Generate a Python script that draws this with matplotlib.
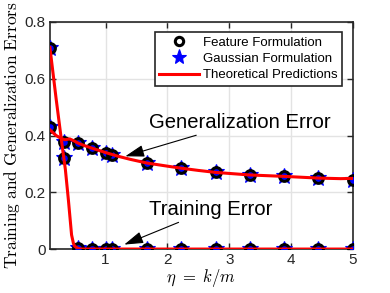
import numpy as np
import matplotlib
matplotlib.use("Agg")
import matplotlib.pyplot as plt

plt.rcParams['font.family'] = ['Liberation Sans', 'DejaVu Sans']
plt.rcParams['mathtext.fontset'] = 'cm'

# simulation points
eta = [0.1, 0.33, 0.56, 0.78, 1.0, 1.11, 1.67, 2.22, 2.78, 3.33, 3.89, 4.44, 5.0]
gen_feat = [0.43, 0.378, 0.372, 0.356, 0.34, 0.332, 0.303, 0.285, 0.27, 0.26, 0.256, 0.25, 0.245]
gen_gauss = [0.43, 0.378, 0.372, 0.356, 0.34, 0.332, 0.303, 0.285, 0.27, 0.26, 0.256, 0.25, 0.245]
train_feat = [0.71, 0.32, 0.003, 0.0, 0.0, 0.0, 0.0, 0.0, 0.0, 0.0, 0.0, 0.0, 0.0]
train_gauss = [0.71, 0.32, 0.003, 0.0, 0.0, 0.0, 0.0, 0.0, 0.0, 0.0, 0.0, 0.0, 0.0]

# theory curves
eta_th_gen = [0.1, 0.2, 0.28, 0.34, 0.42, 0.5, 0.55, 0.65, 0.8, 0.9, 1.0, 1.2, 1.4,
              1.67, 2.0, 2.22, 2.5, 2.78, 3.33, 3.89, 4.44, 4.8, 5.0]
gen_th = [0.42, 0.4, 0.39, 0.385, 0.388, 0.38, 0.374, 0.365, 0.354, 0.347, 0.34, 0.327,
          0.316, 0.303, 0.292, 0.285, 0.277, 0.27, 0.261, 0.256, 0.25, 0.248, 0.249]
eta_th_train = [0.1, 0.2, 0.3, 0.35, 0.4, 0.45, 0.48, 0.5, 0.55, 0.6, 1.0, 2.0, 3.0, 4.0, 5.0]
train_th = [0.71, 0.53, 0.36, 0.28, 0.17, 0.05, 0.02, 0.01, 0.003, 0.0, 0.0, 0.0, 0.0, 0.0, 0.0]

fig = plt.figure(figsize=(3.9, 2.93), dpi=100)
ax = fig.add_axes([0.128, 0.150, 0.777, 0.775])

circ = dict(color='k', mfc='none', ms=7, mew=2.2, ls='none', zorder=4)
star = dict(color='b', mfc='b', mec='b', ms=12, mew=0.8, ls='none', zorder=3)

ax.plot(eta, gen_feat, 'o', label='Feature Formulation', **circ)
ax.plot(eta, gen_gauss, '*', label='Gaussian Formulation', **star)
ax.plot(eta_th_gen, gen_th, '-', color='r', lw=2.2, zorder=5,
        label='Theoretical Predictions')
ax.plot(eta, train_feat, 'o', **circ)
ax.plot(eta, train_gauss, '*', **star)
ax.plot(eta_th_train, train_th, '-', color='r', lw=2.2, zorder=5)

ax.set_xlim(0.1, 5)
ax.set_ylim(0, 0.8)
ax.set_xticks([1, 2, 3, 4, 5])
ax.set_yticks([0, 0.2, 0.4, 0.6, 0.8])
ax.set_yticklabels(['0', '0.2', '0.4', '0.6', '0.8'])
ax.tick_params(direction='in', top=True, right=True, length=4, width=1,
               labelsize=11, colors='#262626', pad=3)
ax.grid(True, color='#e3e3e3', lw=1)
ax.set_axisbelow(True)
for s in ax.spines.values():
    s.set_linewidth(1.2)
    s.set_color('#262626')

ax.set_xlabel(r'$\eta\ =\ k/m$', fontsize=12, labelpad=0)
ax.set_ylabel(r'$\mathrm{Training\ and\ Generalization\ Errors}$', fontsize=12.5, labelpad=2)

leg = ax.legend(loc='upper right', bbox_to_anchor=(0.964, 0.956), fontsize=9.5,
                fancybox=False, framealpha=1, edgecolor='#262626',
                handlelength=3.0, borderpad=0.35, labelspacing=0.3,
                handletextpad=0.3, borderaxespad=0)
leg.get_frame().set_linewidth(1.2)
leg.legend_handles[0].set_markersize(6)
leg.legend_handles[1].set_markersize(11)

arrow = dict(arrowstyle='-|>,head_length=0.8,head_width=0.25', color='k', lw=0.8)
ax.annotate('Generalization Error', xy=(1.275, 0.324), xytext=(1.71, 0.447),
            fontsize=14.6, va='center', ha='left', arrowprops=arrow)
ax.annotate('Training Error', xy=(1.26, 0.012), xytext=(1.71, 0.141),
            fontsize=14.6, va='center', ha='left', arrowprops=arrow)

fig.savefig('out.png', dpi=100)
